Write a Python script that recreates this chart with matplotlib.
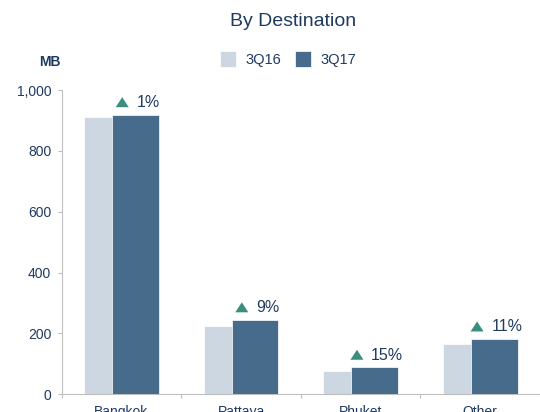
import matplotlib
matplotlib.use("Agg")
import matplotlib.pyplot as plt
import numpy as np
from matplotlib.offsetbox import AnnotationBbox, HPacker, TextArea, DrawingArea
from matplotlib.patches import Polygon

# Revenue by destination (MB)
categories = ["Bangkok", "Pattaya", "Phuket", "Other"]
series_names = ["3Q16", "3Q17"]
values_3q16 = [910, 225, 77, 164]
values_3q17 = [919, 245, 89, 182]
growth_labels = ["1%", "9%", "15%", "11%"]
y_ticks = [0, 200, 400, 600, 800, 1000]

NAVY = "#1F3A60"
LIGHT = "#CDD7E1"
DARK = "#476B8B"
GREEN = "#3A8E7E"
GRID = "#BFBFBF"

plt.rcParams["font.family"] = ["Liberation Sans", "DejaVu Sans"]

fig = plt.figure(figsize=(5.4, 4.12), dpi=100)
ax = fig.add_axes([61.7 / 540, 17.7 / 412, 1 - 61.7 / 540, (394.3 - 90) / 412])

x = np.arange(len(categories))
w = 0.39
off = 0.118
b1 = ax.bar(x - off, values_3q16, w, color=LIGHT, edgecolor="white", linewidth=0.5,
            label=series_names[0], zorder=2)
b2 = ax.bar(x + off, values_3q17, w, color=DARK, edgecolor="white", linewidth=0.5,
            label=series_names[1], zorder=3)

ax.set_xlim(-0.5, len(categories) - 0.5)
ax.set_ylim(0, 1000)

# growth annotations: green triangle + percentage, centred above the 3Q17 bar
for xi, v, g in zip(x, values_3q17, growth_labels):
    da = DrawingArea(9.4, 7.2, 0, 0)
    da.add_artist(Polygon([[0, 0], [9.4, 0], [4.7, 7.2]], closed=True,
                          facecolor=GREEN, edgecolor="none"))
    ta = TextArea(g, textprops=dict(color=NAVY, fontsize=11.5))
    box = HPacker(children=[da, ta], align="baseline", pad=0, sep=5.5)
    ab = AnnotationBbox(box, (xi + off, v), xybox=(1.5, 3.2),
                        xycoords="data", boxcoords="offset points",
                        box_alignment=(0.5, 0), frameon=False, pad=0)
    ax.add_artist(ab)

for s in ["top", "right"]:
    ax.spines[s].set_visible(False)
for s in ["left", "bottom"]:
    ax.spines[s].set_color(GRID)
    ax.spines[s].set_linewidth(0.8)

ax.set_yticks(y_ticks)
ax.set_yticklabels([f"{t:,}" for t in y_ticks])
ax.tick_params(axis="y", length=3.2, width=0.8, color=GRID, pad=4.3,
               labelsize=10, labelcolor=NAVY)

ax.set_xticks(x)
ax.set_xticklabels(categories)
ax.tick_params(axis="x", which="major", length=0, pad=7.7, labelsize=10, labelcolor=NAVY)
ax.set_xticks(np.arange(len(categories) + 1) - 0.5, minor=True)
ax.tick_params(axis="x", which="minor", length=3, width=0.8, color=GRID)

fig.text(292.7 / 540, 1 - 25.5 / 412, "By Destination", ha="center", va="baseline",
         fontsize=14, color=NAVY)
fig.text(50.2 / 540, 1 - 65.7 / 412, "MB", ha="center", va="baseline",
         fontsize=10, fontweight="bold", color=NAVY)

leg = fig.legend(handles=[b1, b2], loc="center", bbox_to_anchor=(288 / 540, 1 - 58.8 / 412),
                 ncol=2, frameon=False, fontsize=10.5, handlelength=1.1, handleheight=1.3,
                 handletextpad=0.68, columnspacing=0.9, borderpad=0, borderaxespad=0)
for t in leg.get_texts():
    t.set_color(NAVY)

fig.savefig("out.png", dpi=100)
